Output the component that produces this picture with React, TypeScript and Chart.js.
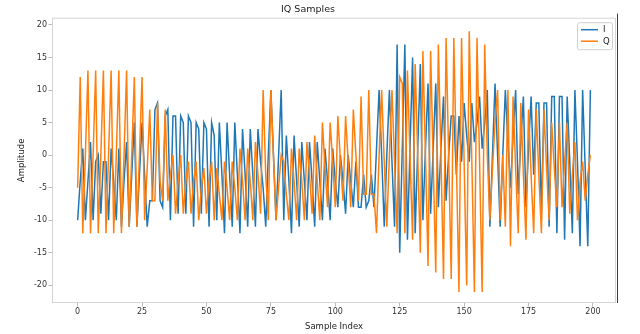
import React, { useEffect, useRef } from "react";
import { Chart, registerables } from "chart.js";

Chart.register(...registerables);

const FONT = "DejaVu Sans";

const chartTitle = "IQ Samples";
const xAxisTitle = "Sample Index";
const yAxisTitle = "Amplitude";
const seriesNames = ["I", "Q"];
const seriesColors = ["#1f77b4", "#ff7f0e"];

const xTickValues = [0, 25, 50, 75, 100, 125, 150, 175, 200];
const yTickValues = [-20, -15, -10, -5, 0, 5, 10, 15, 20];

// I component (samples 0..199)
const iValues = [
  -10, -4, 1, -10, -4, 2, -10, -1, 0, -9,
  -1, -1, -10, 1, -4, -10, 1, -11, -4, 2,
  -11, -3, 5, -11, -3, 5, -3, -11, -7, -7,
  7, 8, -7, -8, 6, 7, -10, 6, 6, -9,
  6, 5, -9, 6, 5, -11, 5, 4, -9, 5,
  4, -11, 5, 3, -10, 5, -3, -12, 5, -3,
  -11, 5, -3, -12, 4, -3, -11, 4, -3, -11,
  4, -1, -5, -11, 0, 10, 0, -10, 0, 10,
  -10, 3, -4, -12, 3, -4, -11, 2, -4, -10,
  2, -4, -11, 2, -4, -10, 1, -4, -10, 1,
  -4, -8, 0, -4, -9, 0, -4, -8, -1, -8,
  -8, -3, -8, -7, -3, -8, 1, 10, 0, -11,
  0, 10, -1, -11, 17, -15, 1, 17, -13, 1,
  15, -12, 1, 14, -10, 1, 11, -9, 1, 11,
  -8, 1, 9, -7, 0, 6, 6, -3, 6, -1,
  8, 3, -1, 8, 2, 5, 9, 1, 5, 10,
  -11, 0, 11, 0, -11, 0, 10, 2, -5, 3,
  10, -6, 2, 9, -8, 1, 9, -3, 8, 8,
  -9, 8, 8, -11, 9, 9, -12, 9, 9, -13,
  9, -1, -12, 10, -1, -14, 10, -2, -14, 10,
];

// Q component (samples 0..199)
const qValues = [
  -5, 12, -12, 0, 13, -12, 0, 13, -12, 0,
  13, -12, 0, 13, -12, 0, 13, -12, 0, 13,
  -11, 0, 12, -11, 0, 12, -10, -2, 7, -7,
  -7, 8, -4, -7, 7, -7, -3, 0, -9, -4,
  0, -9, -4, -1, -9, -4, -1, -10, -5, -2,
  -9, -4, -1, -10, -2, -6, -10, -1, -5, -10,
  -1, -5, -10, 1, -4, -10, 1, -4, -10, 2,
  -3, -9, 10, -3, -10, 10, 0, -10, -5, 0,
  -1, -6, -10, 1, -4, -10, 1, -4, -10, 2,
  -3, -9, 3, -4, -10, 5, -2, -8, 5, -1,
  -8, 6, -1, -7, 6, -1, -8, 7, 0, -7,
  9, -6, -6, 10, -6, -6, -12, 0, 10, -1,
  -11, 0, 10, -1, -12, 12, 11, -12, 13, 0,
  -13, 14, 0, -15, 16, 0, -17, 16, -1, -18,
  17, 0, -19, 18, 0, -19, 18, -1, -21, 18,
  -1, -20, 19, -1, -21, 18, -1, -21, 17, 0,
  -10, -2, 5, 10, -10, 0, -11, 10, -14, 9,
  -2, -12, 8, -3, -13, 7, -3, -12, 7, -3,
  -12, 7, -2, -10, 5, -2, -8, 5, -8, -1,
  5, -9, -3, 2, -10, -4, -1, -7, -3, 0,
];

const frameLines = {
  id: "frameLines",
  afterDatasetsDraw(chart: any) {
    const { ctx, chartArea } = chart;
    const { left, right, top, bottom } = chartArea;
    ctx.save();
    ctx.strokeStyle = "#d4d4d4";
    ctx.lineWidth = 1;
    ctx.strokeRect(left + 0.5, top + 0.5, right - left - 1, bottom - top - 1);
    ctx.strokeStyle = "#3a3a3a";
    ctx.beginPath();
    ctx.moveTo(right + 1.5, top - 4);
    ctx.lineTo(right + 1.5, bottom);
    ctx.stroke();
    ctx.restore();
  },
};

const legendBox = {
  id: "legendBox",
  afterDraw(chart: any) {
    const { ctx, chartArea } = chart;
    const x0 = chartArea.right - 39;
    const y0 = chartArea.top + 4.5;
    const w = 35;
    const h = 27;
    ctx.save();
    ctx.fillStyle = "rgba(255,255,255,0.85)";
    ctx.strokeStyle = "#d0d0d0";
    ctx.lineWidth = 1;
    ctx.beginPath();
    if (ctx.roundRect) ctx.roundRect(x0 + 0.5, y0 + 0.5, w, h, 2);
    else ctx.rect(x0 + 0.5, y0 + 0.5, w, h);
    ctx.fill();
    ctx.stroke();
    ctx.font = `8.5px "${FONT}"`;
    ctx.textBaseline = "middle";
    ctx.textAlign = "left";
    seriesNames.forEach((name, k) => {
      const yy = y0 + 7.5 + k * 11.5;
      ctx.strokeStyle = seriesColors[k];
      ctx.lineWidth = 1.5;
      ctx.beginPath();
      ctx.moveTo(x0 + 4, yy);
      ctx.lineTo(x0 + 21, yy);
      ctx.stroke();
      ctx.fillStyle = "#222";
      ctx.fillText(name, x0 + 26, yy + 0.5);
    });
    ctx.restore();
  },
};

export default function App() {
  const canvasRef = useRef<HTMLCanvasElement | null>(null);

  useEffect(() => {
    const canvas = canvasRef.current;
    if (!canvas) return;
    const tickFont = { family: FONT, size: 8 };
    const series = [iValues, qValues];
    const chart = new Chart(canvas, {
      type: "line",
      data: {
        datasets: series.map((vals, k) => ({
          label: seriesNames[k],
          data: vals.map((v, idx) => ({ x: idx, y: v })),
          borderColor: seriesColors[k],
          backgroundColor: seriesColors[k],
          borderWidth: 1.5,
          pointRadius: 0,
          tension: 0,
          fill: false,
          order: k === 0 ? 1 : 0,
        })),
      },
      options: {
        responsive: false,
        animation: false,
        events: [],
        layout: { padding: { left: 0, right: 24, top: 0, bottom: 0 } },
        plugins: {
          legend: { display: false },
          tooltip: { enabled: false },
          title: {
            display: true,
            text: chartTitle,
            color: "#222",
            font: { family: FONT, size: 9.5, weight: "normal" },
            padding: { top: 4, bottom: 2.3 },
          },
        },
        scales: {
          x: {
            type: "linear",
            min: -9.95,
            max: 208.95,
            afterBuildTicks: (s: any) => {
              s.ticks = xTickValues.map((v) => ({ value: v }));
            },
            afterFit: (s: any) => {
              s.height = 31;
            },
            ticks: {
              font: tickFont,
              color: "#333",
              padding: 1,
              maxRotation: 0,
              autoSkip: false,
              callback: (v: any) => String(v),
            },
            grid: {
              drawOnChartArea: false,
              drawTicks: true,
              tickLength: 3.5,
              color: "#bbbbbb",
            },
            border: { display: false },
            title: {
              display: true,
              text: xAxisTitle,
              color: "#222",
              font: { family: FONT, size: 8.5 },
              padding: { top: 0, bottom: 2.5 },
            },
          },
          y: {
            type: "linear",
            min: -22.7,
            max: 21.1,
            afterBuildTicks: (s: any) => {
              s.ticks = yTickValues.map((v) => ({ value: v }));
            },
            afterFit: (s: any) => {
              s.width = 52;
            },
            ticks: {
              font: tickFont,
              color: "#333",
              padding: 1.5,
              autoSkip: false,
              callback: (v: any) => String(v),
            },
            grid: {
              drawOnChartArea: false,
              drawTicks: true,
              tickLength: 3.5,
              color: "#bbbbbb",
            },
            border: { display: false },
            title: {
              display: true,
              text: yAxisTitle,
              color: "#222",
              font: { family: FONT, size: 8.5 },
              padding: { top: 16.5, bottom: 0 },
            },
          },
        },
      },
      plugins: [frameLines, legendBox],
    } as any);
    return () => chart.destroy();
  }, []);

  return (
    <div style={{ position: "absolute", left: 0, top: 0, width: 640, height: 334, background: "#fff" }}>
      <canvas ref={canvasRef} width={640} height={334} style={{ display: "block" }} />
    </div>
  );
}
